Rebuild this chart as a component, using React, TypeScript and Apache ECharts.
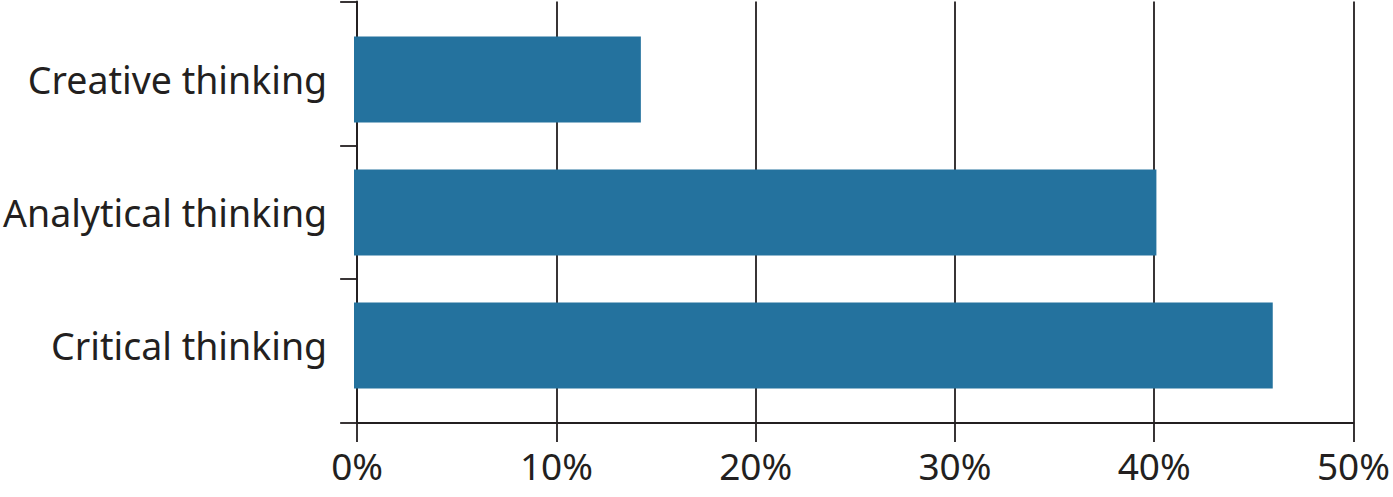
import React, { useEffect, useRef } from "react";
import * as echarts from "echarts";

const categories = ["Creative thinking", "Analytical thinking", "Critical thinking"];
const values = [14.3, 40.0, 45.8];
const xTicks = [0, 10, 20, 30, 40, 50];

const FONT = "'Noto Sans', 'Open Sans', sans-serif";
const INK = "#231f20";
const BAR = "#24729e";

export default function App() {
  const ref = useRef<HTMLDivElement>(null);
  useEffect(() => {
    const chart = echarts.init(ref.current!, null, { renderer: "svg" });
    const pad = 0.583;
    chart.setOption({
      animation: false,
      grid: [
        { left: 354, right: 36, top: 1.5, height: 421.5, containLabel: false },
        { left: 354, right: 36, top: 13, height: 399, containLabel: false },
      ],
      xAxis: [
        {
          gridIndex: 0,
          type: "value",
          min: xTicks[0],
          max: xTicks[xTicks.length - 1],
          interval: 10,
          axisLine: { show: true, onZero: false, lineStyle: { color: INK, width: 1.8 } },
          axisTick: { show: true, length: 19, lineStyle: { color: INK, width: 1.8 } },
          splitLine: { show: true, lineStyle: { color: INK, width: 1.8 } },
          axisLabel: {
            formatter: "{value}%",
            color: INK,
            fontFamily: FONT,
            fontSize: 37,
            margin: 24,
          },
        },
        {
          gridIndex: 1,
          type: "value",
          min: xTicks[0],
          max: xTicks[xTicks.length - 1],
          show: false,
        },
      ],
      yAxis: [
        {
          gridIndex: 0,
          type: "value",
          inverse: true,
          min: -pad,
          max: categories.length - 1 + pad,
          axisLine: { show: true, onZero: false, lineStyle: { color: INK, width: 1.8 } },
          axisTick: {
            show: true,
            length: 17,
            lineStyle: { color: INK, width: 1.8 },
            customValues: [-pad, 0.5, 1.5, categories.length - 1 + pad],
          },
          splitLine: { show: false },
          axisLabel: {
            show: true,
            customValues: categories.map((_, i) => i),
            formatter: (v: number) => categories[Math.round(v)] ?? "",
            color: INK,
            fontFamily: FONT,
            fontSize: 37.5,
            margin: 30,
          },
        },
        {
          gridIndex: 1,
          type: "category",
          inverse: true,
          data: categories,
          show: false,
        },
      ],
      series: [
        {
          type: "bar",
          xAxisIndex: 1,
          yAxisIndex: 1,
          data: values,
          barWidth: 86,
          itemStyle: { color: BAR },
        },
      ],
    });
    return () => chart.dispose();
  }, []);
  return <div ref={ref} style={{ width: 1393, height: 497, position: "absolute", left: 0, top: 0 }} />;
}
